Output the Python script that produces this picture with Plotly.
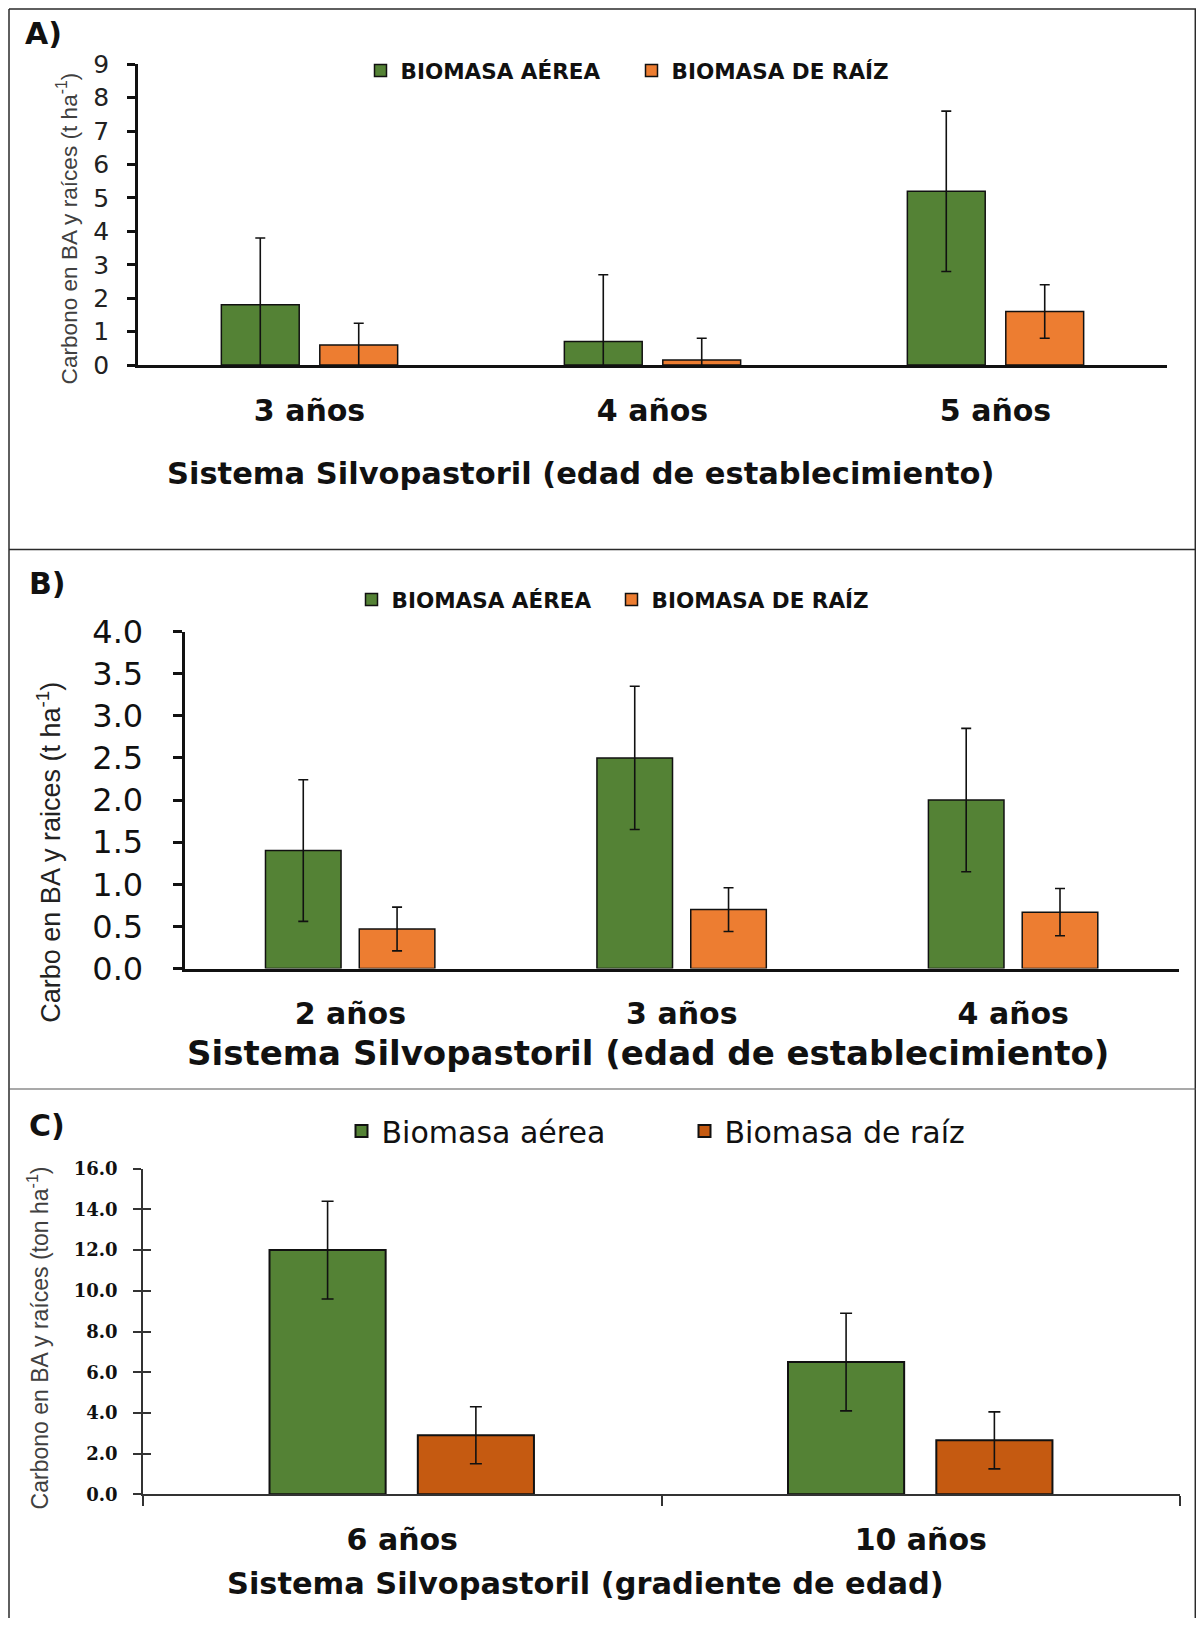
import plotly.graph_objects as go

# page is 1204x1626; the html body keeps an 8px margin, so the figure is 16px smaller
PAGE_W, PAGE_H = 1204, 1626
W, H = PAGE_W - 16, PAGE_H - 16

# ---------------- data ----------------
# Panel A
cats_a = ["3 años", "4 años", "5 años"]
aerea_a = [1.8, 0.7, 5.2]
aerea_a_err = [2.0, 2.0, 2.4]
raiz_a = [0.6, 0.15, 1.6]
raiz_a_err = [0.65, 0.65, 0.8]

# Panel B
cats_b = ["2 años", "3 años", "4 años"]
aerea_b = [1.4, 2.5, 2.0]
aerea_b_err = [0.84, 0.85, 0.85]
raiz_b = [0.47, 0.7, 0.67]
raiz_b_err = [0.26, 0.26, 0.28]

# Panel C
cats_c = ["6 años", "10 años"]
aerea_c = [12.0, 6.5]
aerea_c_err = [2.4, 2.4]
raiz_c = [2.9, 2.65]
raiz_c_err = [1.4, 1.4]

names_upper = ["BIOMASA AÉREA", "BIOMASA DE RAÍZ"]
names_lower = ["Biomasa aérea", "Biomasa de raíz"]
xtitle_ab = "Sistema Silvopastoril (edad de establecimiento)"
xtitle_c = "Sistema Silvopastoril (gradiente de edad)"
ytitle_a = "Carbono en BA y raíces (t ha<sup>-1</sup>)"
ytitle_b = "Carbo en BA y raices (t ha<sup>-1</sup>)"
ytitle_c = "Carbono en BA y raíces (ton ha<sup>-1</sup>)"

GREEN = "#548235"
ORANGE = "#ED7D31"
DKORANGE = "#C55A11"


def px_x(p):  # page pixel -> paper fraction
    return (p - 8) / W


def px_y(p):
    return 1 - (p - 8) / H


def bar(x, y, err, name, color, off, width, xa, ya, leg, capw, lw=1.5):
    return go.Bar(
        x=x, y=y, name=name, xaxis=xa, yaxis=ya, legend=leg,
        width=width, offset=off,
        marker=dict(color=color, line=dict(color="#111111", width=lw)),
        error_y=dict(type="data", array=err, color="#111111", thickness=1.6, width=capw),
    )


fig = go.Figure()
fig.add_trace(bar(cats_a, aerea_a, aerea_a_err, names_upper[0], GREEN, -0.257, 0.227, "x", "y", "legend", 5))
fig.add_trace(bar(cats_a, raiz_a, raiz_a_err, names_upper[1], ORANGE, 0.030, 0.227, "x", "y", "legend2", 5))
fig.add_trace(bar(cats_b, aerea_b, aerea_b_err, names_upper[0], GREEN, -0.256, 0.228, "x2", "y2", "legend3", 5))
fig.add_trace(bar(cats_b, raiz_b, raiz_b_err, names_upper[1], ORANGE, 0.027, 0.228, "x2", "y2", "legend4", 5))
fig.add_trace(bar(cats_c, aerea_c, aerea_c_err, names_lower[0], GREEN, -0.256, 0.224, "x3", "y3", "legend5", 6, 2))
fig.add_trace(bar(cats_c, raiz_c, raiz_c_err, names_lower[1], DKORANGE, 0.030, 0.224, "x3", "y3", "legend6", 6, 2))
# empty trace to activate the inside-tick overlay axis of panel C
fig.add_trace(go.Bar(x=[], y=[], xaxis="x3", yaxis="y4", showlegend=False, hoverinfo="skip"))

BOLD = dict(family="DejaVu Sans", weight="bold", color="#111111")
SANS = "Liberation Sans, Arial"

common = dict(showgrid=False, zeroline=False, automargin=False, showline=True)

fig.update_layout(
    template="none",
    width=W, height=H,
    autosize=False,
    margin=dict(l=0, r=0, t=0, b=0),
    paper_bgcolor="white", plot_bgcolor="rgba(0,0,0,0)",
    barmode="overlay",
    showlegend=True,
    # ---- Panel A ----
    xaxis=dict(**common, domain=[px_x(138), px_x(1167)], anchor="y", range=[-0.5, 2.5],
               linewidth=3, linecolor="#111111", ticks="", tickfont=dict(**BOLD, size=30),
               ticklabelstandoff=17),
    yaxis=dict(**common, domain=[px_y(365), px_y(64.3)], anchor="x", range=[0, 9], dtick=1, tick0=0,
               linewidth=2.5, linecolor="#111111", ticks="outside", ticklen=8, tickwidth=2.5,
               tickcolor="#111111",
               tickfont=dict(family="DejaVu Sans", size=25, color="#222222"), ticklabelstandoff=13),
    # ---- Panel B ----
    xaxis2=dict(**common, domain=[px_x(184.6), px_x(1179)], anchor="y2", range=[-0.5, 2.5],
                linewidth=3, linecolor="#111111", ticks="", tickfont=dict(**BOLD, size=30),
                ticklabelstandoff=16),
    yaxis2=dict(**common, domain=[px_y(968.6), px_y(631.5)], anchor="x2", range=[0, 4], dtick=0.5, tick0=0,
                tickformat=".1f", linewidth=3, linecolor="#111111", ticks="outside", ticklen=9, tickwidth=3,
                tickcolor="#111111",
                tickfont=dict(family="DejaVu Sans", size=32, color="#111111"), ticklabelstandoff=23),
    # ---- Panel C ----
    xaxis3=dict(**common, domain=[px_x(143), px_x(1180)], anchor="y3", range=[-0.5, 1.5],
                linewidth=1.6, linecolor="#333333", ticks="outside", tickson="boundaries", ticklen=10,
                tickwidth=1.6, tickcolor="#333333",
                tickfont=dict(**BOLD, size=30), ticklabelstandoff=18),
    yaxis3=dict(**common, domain=[px_y(1494.3), px_y(1168.7)], anchor="x3", range=[0, 16], dtick=2, tick0=0,
                tickformat=".1f", linewidth=1.6, linecolor="#333333", ticks="outside", ticklen=8,
                tickwidth=1.6, tickcolor="#333333",
                tickfont=dict(family="DejaVu Serif", weight="bold", size=18, color="#111111"),
                ticklabelstandoff=12),
    yaxis4=dict(showgrid=False, zeroline=False, automargin=False, overlaying="y3", anchor="x3",
                range=[0, 16], dtick=2, tick0=0, ticks="inside", ticklen=8, tickwidth=1.6,
                tickcolor="#333333", showticklabels=False, showline=False),
)

# ---- legends (one per series, positioned like the original) ----
leg_common = dict(xanchor="left", yanchor="middle", orientation="h", bgcolor="rgba(0,0,0,0)",
                  borderwidth=0, itemwidth=30)
upper_font = dict(family="DejaVu Sans", weight="bold", size=21.5, color="#111111")
lower_font = dict(family="DejaVu Sans", size=30, color="#111111")
fig.update_layout(
    legend=dict(**leg_common, x=px_x(401 - 40.5), y=px_y(70.5), font=upper_font),
    legend2=dict(**leg_common, x=px_x(672 - 40.5), y=px_y(70.5), font=upper_font),
    legend3=dict(**leg_common, x=px_x(392 - 40.5), y=px_y(599.4), font=upper_font),
    legend4=dict(**leg_common, x=px_x(652 - 40.5), y=px_y(599.4), font=upper_font),
    legend5=dict(**leg_common, x=px_x(382 - 40.5), y=px_y(1131), font=lower_font),
    legend6=dict(**leg_common, x=px_x(725 - 40.5), y=px_y(1131), font=lower_font),
)

# ---- x-axis titles (placed off-centre like the original) ----
for txt, xp, yp, sz in [(xtitle_ab, 580, 473, 30.5), (xtitle_ab, 648, 1052.6, 34),
                        (xtitle_c, 585.4, 1583.5, 30.4)]:
    fig.add_annotation(text=txt, x=px_x(xp), y=px_y(yp), xref="paper", yref="paper",
                       showarrow=False, xanchor="center", yanchor="middle",
                       font=dict(**BOLD, size=sz))

# ---- y-axis titles (rotated, placed like the original) ----
for txt, xp, yp, sz, col in [(ytitle_a, 67.4, 228, 22.6, "#404040"),
                             (ytitle_b, 48.7, 852, 27, "#222222"),
                             (ytitle_c, 38.4, 1338, 23, "#404040")]:
    fig.add_annotation(text=txt, x=px_x(xp), y=px_y(yp), xref="paper", yref="paper",
                       showarrow=False, xanchor="center", yanchor="middle", textangle=-90,
                       font=dict(family=SANS, size=sz, color=col))

# ---- panel letters ----
for txt, xp, yp in [("A)", 43, 34), ("B)", 47, 583), ("C)", 47, 1125)]:
    fig.add_annotation(text=txt, x=px_x(xp), y=px_y(yp), xref="paper", yref="paper",
                       showarrow=False, xanchor="center", yanchor="middle",
                       font=dict(family="DejaVu Sans", weight="bold", size=30, color="#111111"))

# ---- panel frames ----
frame = dict(type="line", xref="paper", yref="paper", line=dict(color="#2a2a2a", width=1.5))
fig.add_shape(**frame, x0=px_x(9), x1=px_x(1196), y0=px_y(9), y1=px_y(9))
fig.add_shape(**frame, x0=px_x(9), x1=px_x(9), y0=px_y(9), y1=0)
fig.add_shape(**frame, x0=px_x(1195.3), x1=px_x(1195.3), y0=px_y(9), y1=0)
fig.add_shape(**frame, x0=px_x(9), x1=px_x(1196), y0=px_y(549.6), y1=px_y(549.6))
fig.add_shape(type="line", xref="paper", yref="paper", line=dict(color="#555555", width=1.2),
              x0=px_x(9), x1=px_x(1196), y0=px_y(1089), y1=px_y(1089))

fig.write_html("out.html")
